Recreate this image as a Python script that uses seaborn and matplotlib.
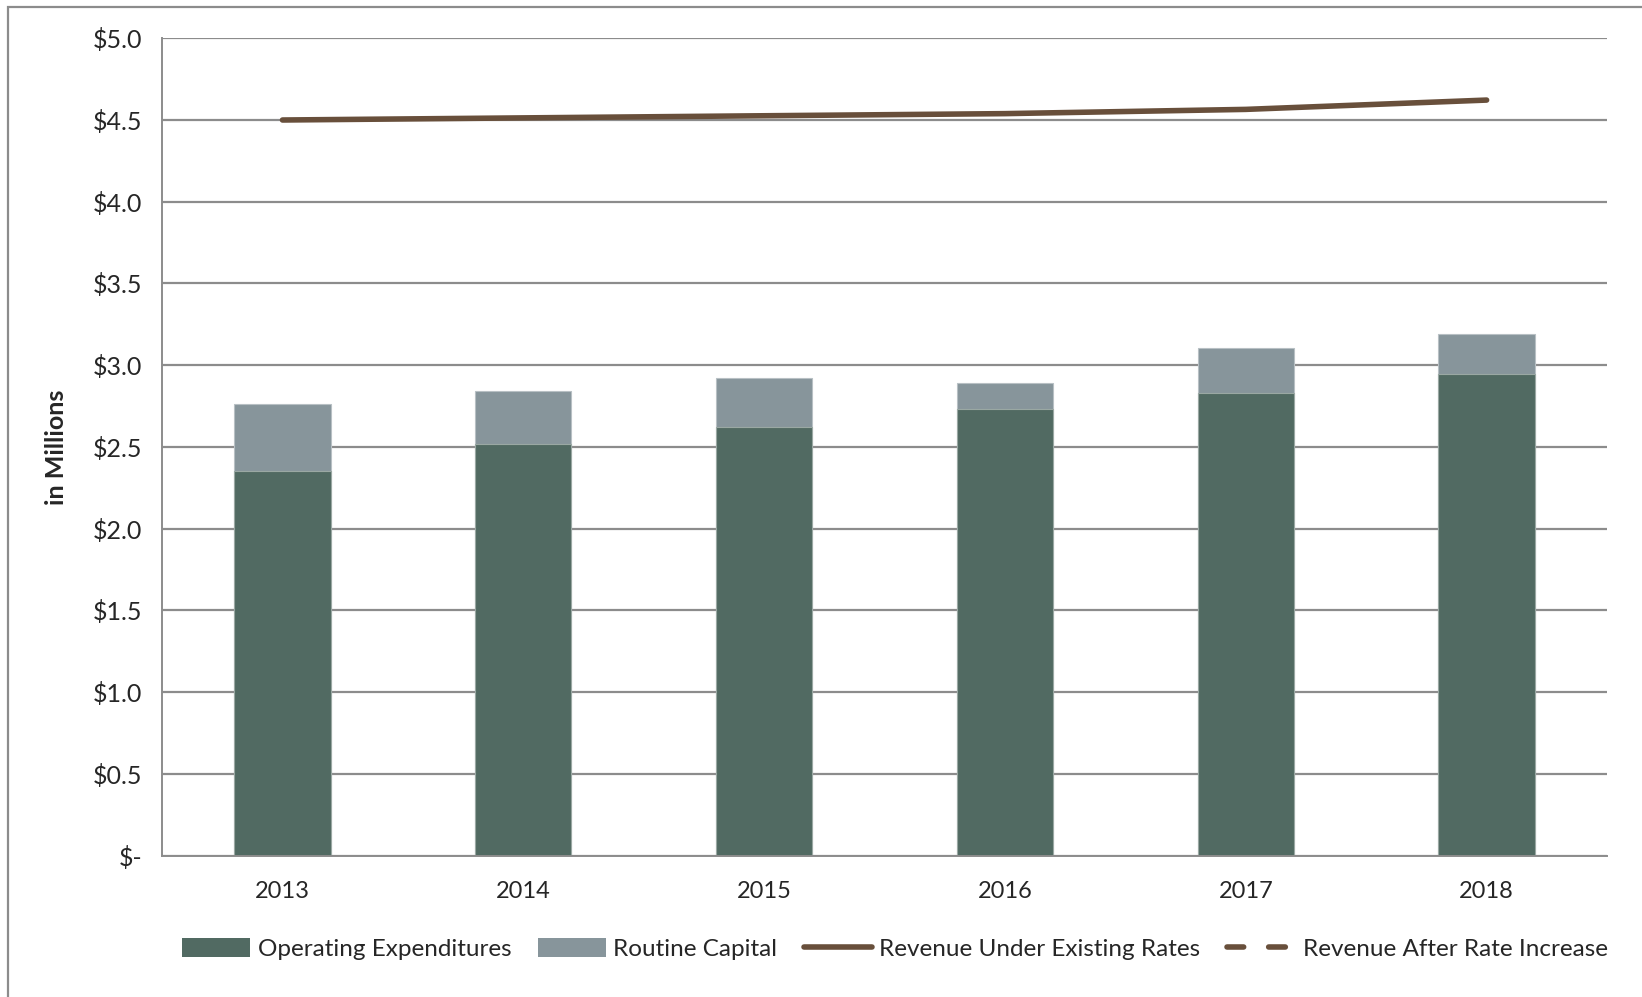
import matplotlib
matplotlib.use("Agg")
import matplotlib.pyplot as plt
from matplotlib.lines import Line2D
from matplotlib.patches import Patch, Rectangle
import numpy as np
import pandas as pd
import seaborn as sns

years = ["2013", "2014", "2015", "2016", "2017", "2018"]
operating_expenditures = [2.35, 2.52, 2.62, 2.73, 2.83, 2.945]
routine_capital = [0.41, 0.32, 0.30, 0.16, 0.275, 0.245]
revenue_existing = [4.50, 4.513, 4.526, 4.539, 4.565, 4.622]

OPEX_COLOR = "#516A62"
CAPITAL_COLOR = "#87959B"
LINE_COLOR = "#684F3B"
GRID_COLOR = "#8C8C8C"

df = pd.DataFrame(
    {
        "year": years,
        "opex": operating_expenditures,
        "capital": routine_capital,
        "revenue": revenue_existing,
    }
)
df["total"] = df["opex"] + df["capital"]

sns.set_theme(style="white")
plt.rcParams["font.family"] = ["Lato", "DejaVu Sans"]

fig = plt.figure(figsize=(16.42, 9.97), dpi=100)
ax = fig.add_axes([0.0987, 0.1419, 0.88, 0.8197])

# stacked bars: total drawn first, operating expenditures on top of it
sns.barplot(data=df, x="year", y="total", color=CAPITAL_COLOR, width=0.4,
            saturation=1, edgecolor="#B8C0C4", linewidth=0.8, ax=ax)
sns.barplot(data=df, x="year", y="opex", color=OPEX_COLOR, width=0.4,
            saturation=1, edgecolor="#9AA8A3", linewidth=0.8, ax=ax)
sns.lineplot(data=df, x="year", y="revenue", color=LINE_COLOR, linewidth=4,
             solid_capstyle="round", ax=ax)

ax.set_xlim(-0.5, 5.5)
ax.set_ylim(0, 5.0)
ax.set_yticks(np.arange(0, 5.01, 0.5))
ax.set_yticklabels(["$-"] + [f"${v:.1f}" for v in np.arange(0.5, 5.01, 0.5)])
ax.yaxis.grid(True, color=GRID_COLOR, linewidth=1.6)
ax.set_axisbelow(True)

ax.set_xticks(np.arange(-0.5, 5.6, 1.0), minor=True)
ax.tick_params(axis="x", which="major", length=0, labelsize=17, pad=18)
ax.tick_params(axis="x", which="minor", length=8, width=1.2, color=GRID_COLOR, direction="out")
ax.tick_params(axis="y", length=8, width=1.2, color=GRID_COLOR, direction="out", labelsize=18, pad=6)

for side in ["top", "right"]:
    ax.spines[side].set_visible(False)
for side in ["left", "bottom"]:
    ax.spines[side].set_color(GRID_COLOR)
    ax.spines[side].set_linewidth(1.4)

ax.set_xlabel("")
ax.set_ylabel("in Millions", fontsize=18, fontweight="bold", labelpad=18)

handles = [
    Patch(facecolor=OPEX_COLOR, edgecolor="none"),
    Patch(facecolor=CAPITAL_COLOR, edgecolor="none"),
    Line2D([], [], color=LINE_COLOR, linewidth=4, solid_capstyle="round"),
    Line2D([], [], color=LINE_COLOR, linewidth=4, linestyle=(0, (3, 4.5)),
           dash_capstyle="round"),
]
labels = ["Operating Expenditures", "Routine Capital",
          "Revenue Under Existing Rates", "Revenue After Rate Increase"]
fig.legend(handles, labels, loc="center", bbox_to_anchor=(0.545, 0.048), ncol=4,
           frameon=False, fontsize=17.5, handlelength=2.8, handleheight=0.8,
           handletextpad=0.3, columnspacing=1.1)

fig.add_artist(Rectangle((0.005, -0.02), 1.0, 1.013, transform=fig.transFigure,
                         fill=False, edgecolor=GRID_COLOR, linewidth=1.6))

fig.savefig("out.png", dpi=100)
